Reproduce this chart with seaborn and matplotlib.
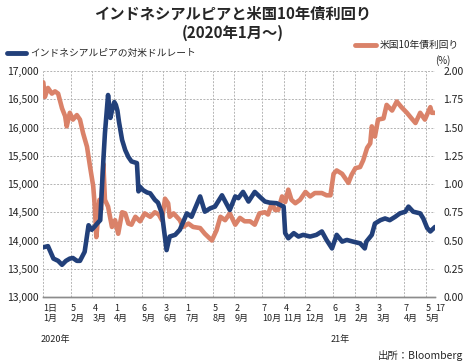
import matplotlib
matplotlib.use("Agg")
import matplotlib.pyplot as plt
import matplotlib.transforms as mtransforms
from matplotlib.lines import Line2D
import pandas as pd
import seaborn as sns

# インドネシアルピアの対米ドルレート
idr_dates = [
    "2020-01-01", "2020-01-07", "2020-01-14", "2020-01-20", "2020-01-25", "2020-01-30",
    "2020-02-04", "2020-02-08", "2020-02-13", "2020-02-17", "2020-02-23", "2020-02-28",
    "2020-03-03", "2020-03-07", "2020-03-10", "2020-03-14", "2020-03-18", "2020-03-20",
    "2020-03-24", "2020-03-27", "2020-03-29", "2020-04-01", "2020-04-03", "2020-04-05",
    "2020-04-07", "2020-04-11", "2020-04-15", "2020-04-19", "2020-04-23", "2020-04-30",
    "2020-05-02", "2020-05-04", "2020-05-08", "2020-05-13", "2020-05-17", "2020-05-23",
    "2020-05-27", "2020-06-01", "2020-06-07", "2020-06-11", "2020-06-18", "2020-06-24",
    "2020-07-03", "2020-07-09", "2020-07-20", "2020-07-26", "2020-08-02", "2020-08-08",
    "2020-08-17", "2020-08-27", "2020-09-03", "2020-09-07", "2020-09-13", "2020-09-20",
    "2020-09-28", "2020-10-04", "2020-10-11", "2020-10-17", "2020-10-26", "2020-11-04",
    "2020-11-06", "2020-11-10", "2020-11-17", "2020-11-23", "2020-11-29", "2020-12-08",
    "2020-12-16", "2020-12-23", "2020-12-29", "2021-01-05", "2021-01-11", "2021-01-18",
    "2021-01-24", "2021-02-01", "2021-02-10", "2021-02-16", "2021-02-18", "2021-02-25",
    "2021-03-01", "2021-03-08", "2021-03-14", "2021-03-20", "2021-03-27", "2021-04-02",
    "2021-04-09", "2021-04-13", "2021-04-19", "2021-04-28", "2021-05-02", "2021-05-07",
    "2021-05-11", "2021-05-17",
]
idr_values = [
    13880, 13900, 13680, 13640, 13570, 13640,
    13680, 13690, 13640, 13640, 13800, 14270,
    14190, 14250, 14300, 14360, 15425, 15900,
    16575, 16170, 16300, 16450, 16400, 16300,
    16100, 15780, 15600, 15480, 15400, 15370,
    14870, 14950, 14890, 14850, 14835, 14720,
    14670, 14480, 13830, 14070, 14100, 14190,
    14480, 14420, 14780, 14510, 14570, 14600,
    14800, 14540, 14780, 14750, 14860, 14690,
    14860, 14780, 14690, 14670, 14660, 14600,
    14130, 14040, 14130, 14070, 14100, 14070,
    14100, 14160, 14010, 13860, 14100, 13980,
    14010, 13980, 13950, 13860, 13980, 14100,
    14300, 14360, 14390, 14360, 14420, 14480,
    14510, 14600, 14510, 14480, 14390, 14220,
    14160, 14240,
]

# 米国10年債利回り (%)
ust_dates = [
    "2020-01-01", "2020-01-03", "2020-01-07", "2020-01-12", "2020-01-16", "2020-01-20",
    "2020-01-25", "2020-01-29", "2020-01-31", "2020-02-04", "2020-02-08", "2020-02-13",
    "2020-02-17", "2020-02-21", "2020-02-26", "2020-03-01", "2020-03-05", "2020-03-07",
    "2020-03-09", "2020-03-13", "2020-03-15", "2020-03-18", "2020-03-20", "2020-03-24",
    "2020-03-29", "2020-04-02", "2020-04-06", "2020-04-11", "2020-04-15", "2020-04-19",
    "2020-04-23", "2020-04-28", "2020-05-04", "2020-05-10", "2020-05-17", "2020-05-23",
    "2020-05-28", "2020-06-01", "2020-06-05", "2020-06-09", "2020-06-11", "2020-06-16",
    "2020-06-20", "2020-06-24", "2020-06-28", "2020-07-05", "2020-07-11", "2020-07-20",
    "2020-07-26", "2020-08-04", "2020-08-10", "2020-08-15", "2020-08-21", "2020-08-27",
    "2020-09-03", "2020-09-09", "2020-09-15", "2020-09-22", "2020-09-28", "2020-10-04",
    "2020-10-11", "2020-10-15", "2020-10-20", "2020-10-24", "2020-10-28", "2020-11-02",
    "2020-11-06", "2020-11-10", "2020-11-14", "2020-11-19", "2020-11-25", "2020-12-02",
    "2020-12-08", "2020-12-14", "2020-12-23", "2020-12-29", "2021-01-03", "2021-01-07",
    "2021-01-11", "2021-01-18", "2021-01-22", "2021-01-26", "2021-01-30", "2021-02-04",
    "2021-02-10", "2021-02-14", "2021-02-19", "2021-02-23", "2021-02-25", "2021-03-01",
    "2021-03-05", "2021-03-12", "2021-03-16", "2021-03-23", "2021-03-29", "2021-04-04",
    "2021-04-11", "2021-04-17", "2021-04-22", "2021-04-28", "2021-05-04", "2021-05-11",
    "2021-05-13", "2021-05-17",
]
ust_values = [
    1.90, 1.77, 1.85, 1.80, 1.82, 1.80,
    1.67, 1.60, 1.51, 1.63, 1.57, 1.61,
    1.57, 1.45, 1.33, 1.15, 0.98, 0.80,
    0.53, 0.86, 0.77, 1.18, 0.86, 0.80,
    0.62, 0.68, 0.56, 0.75, 0.74, 0.65,
    0.64, 0.71, 0.67, 0.74, 0.71, 0.75,
    0.73, 0.68, 0.87, 0.83, 0.71, 0.74,
    0.71, 0.68, 0.62, 0.65, 0.62, 0.61,
    0.56, 0.50, 0.59, 0.71, 0.68, 0.74,
    0.64, 0.70, 0.67, 0.67, 0.64, 0.74,
    0.75, 0.73, 0.83, 0.77, 0.77, 0.89,
    0.84, 0.95, 0.86, 0.83, 0.86, 0.93,
    0.89, 0.92, 0.92, 0.90, 0.90, 1.09,
    1.12, 1.09, 1.05, 1.01, 1.08, 1.14,
    1.15, 1.21, 1.32, 1.36, 1.51, 1.42,
    1.57, 1.58, 1.70, 1.65, 1.73, 1.68,
    1.63, 1.58, 1.54, 1.63, 1.57, 1.68,
    1.63, 1.63,
]

tick_dates = [
    "2020-01-01", "2020-02-05", "2020-03-04", "2020-04-01", "2020-05-06", "2020-06-03",
    "2020-07-01", "2020-08-05", "2020-09-02", "2020-10-07", "2020-11-04", "2020-12-02",
    "2021-01-06", "2021-02-03", "2021-03-03", "2021-04-07", "2021-05-05", "2021-05-17",
]
tick_labels = [
    "1日\n1月", "5\n2月", "4\n3月", "1\n4月", "6\n5月", "3\n6月",
    "1\n7月", "5\n8月", "2\n9月", "7\n10月", "4\n11月", "2\n12月",
    "6\n1月", "3\n2月", "3\n3月", "7\n4月", "5\n5月", "17",
]
year_dates = ["2020-01-01", "2021-01-06"]
year_labels = ["2020年", "21年"]

idr_ticks = [13000, 13500, 14000, 14500, 15000, 15500, 16000, 16500, 17000]
ust_ticks = [0.00, 0.25, 0.50, 0.75, 1.00, 1.25, 1.50, 1.75, 2.00]

BLUE = "#22407a"
ORANGE = "#da8269"
GRID = "#b4b4b4"

sns.set_style("white")
plt.rcParams["font.family"] = ["Noto Sans CJK JP", "DejaVu Sans"]

idr = pd.DataFrame({"date": pd.to_datetime(idr_dates), "value": idr_values})
ust = pd.DataFrame({"date": pd.to_datetime(ust_dates), "value": ust_values})

fig = plt.figure(figsize=(4.65, 3.63), dpi=100)
ax = fig.add_axes([0.0931, 0.1818, 0.8424, 0.6226])
ax2 = ax.twinx()
# blue line on top of the orange one
ax.set_zorder(ax2.get_zorder() + 1)
ax.patch.set_visible(False)

sns.lineplot(data=ust, x="date", y="value", ax=ax2, color=ORANGE, linewidth=3.3)
sns.lineplot(data=idr, x="date", y="value", ax=ax, color=BLUE, linewidth=3.3)

ax.set_xlim(pd.Timestamp(tick_dates[0]), pd.Timestamp(tick_dates[-1]))
ax.set_ylim(idr_ticks[0], idr_ticks[-1])
ax2.set_ylim(ust_ticks[0], ust_ticks[-1])

ax.set_yticks(idr_ticks)
ax.set_yticklabels([f"{v:,}" for v in idr_ticks], fontsize=7.5)
ax2.set_yticks(ust_ticks)
ax2.set_yticklabels([f"{v:.2f}" for v in ust_ticks], fontsize=7.5)

ax.set_xticks(pd.to_datetime(tick_dates))
ax.set_xticklabels(tick_labels, fontsize=6.5, ha="left", linespacing=1.15)
shift = mtransforms.ScaledTranslation(-2.5 / 100, 0, fig.dpi_scale_trans)
last_shift = mtransforms.ScaledTranslation(-6 / 100, 0, fig.dpi_scale_trans)
xlabels = ax.get_xticklabels()
for i, lab in enumerate(xlabels):
    lab.set_transform(lab.get_transform() + (last_shift if i == len(xlabels) - 1 else shift))

ax.tick_params(axis="y", length=0, pad=3, colors="#222222")
ax.tick_params(axis="x", length=0, pad=5, colors="#222222")
ax2.tick_params(axis="y", length=0, pad=6, colors="#222222")

# grid drawn on the lower axes so it stays under the lines
ax2.xaxis.set_visible(True)
ax2.tick_params(axis="x", labelbottom=False, length=0)
ax2.set_xticks(pd.to_datetime(tick_dates))
ax2.grid(True, color=GRID, linestyle=(0, (2, 1.5)), linewidth=0.7)
ax.grid(False)

for a in (ax, ax2):
    a.set_xlabel("")
    a.set_ylabel("")
    for side in ("top", "left", "right"):
        a.spines[side].set_visible(False)
    a.spines["bottom"].set_color("#8c8c8c")
    a.spines["bottom"].set_linewidth(1.0)

# year labels under the month row
year_trans = mtransforms.blended_transform_factory(ax.transData, ax.transAxes) + shift
for d, lab in zip(year_dates, year_labels):
    ax.text(pd.Timestamp(d), -0.188, lab, transform=year_trans, ha="left",
            va="center", fontsize=6.5, color="#222222")

# title
fig.text(0.5, 0.962, "インドネシアルピアと米国10年債利回り", ha="center", va="center",
         fontsize=11, fontweight="bold")
fig.text(0.5, 0.910, "(2020年1月～)", ha="center", va="center",
         fontsize=11, fontweight="bold")

# legends
fig.legend(handles=[Line2D([], [], color=BLUE, linewidth=3.5)],
           labels=["インドネシアルピアの対米ドルレート"], loc="center left",
           bbox_to_anchor=(0.015, 0.854), bbox_transform=fig.transFigure,
           frameon=False, fontsize=7, handlelength=2.0, handletextpad=0.35,
           borderpad=0, borderaxespad=0)
fig.legend(handles=[Line2D([], [], color=ORANGE, linewidth=3.5)],
           labels=["米国10年債利回り"], loc="center left",
           bbox_to_anchor=(0.763, 0.876), bbox_transform=fig.transFigure,
           frameon=False, fontsize=7, handlelength=2.2, handletextpad=0.35,
           borderpad=0, borderaxespad=0)
fig.text(0.953, 0.832, "(%)", ha="center", va="center", fontsize=7)

fig.text(0.996, 0.022, "出所：Bloomberg", ha="right", va="center", fontsize=7.5)

fig.savefig("out.png", dpi=100)
